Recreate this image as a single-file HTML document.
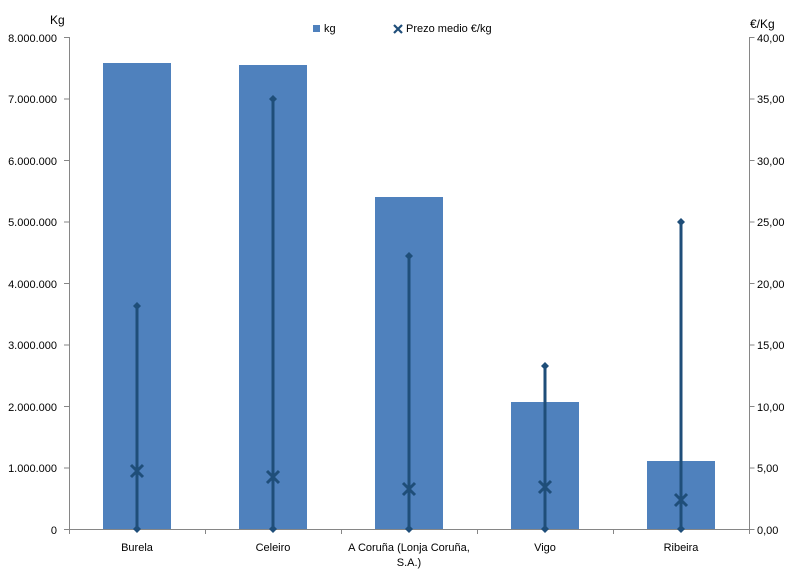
<!DOCTYPE html>
<html><head><meta charset="utf-8"><style>
html,body{margin:0;padding:0;background:#fff}
text{font-family:"Liberation Sans",sans-serif;font-size:11px;fill:#000}
</style></head><body>
<svg width="795" height="573" viewBox="0 0 795 573" xmlns="http://www.w3.org/2000/svg">
<g fill="#4f81bd">
<rect x="103" y="63" width="68" height="466"/>
<rect x="239" y="65" width="68" height="464"/>
<rect x="375" y="197" width="68" height="332"/>
<rect x="511" y="402" width="68" height="127"/>
<rect x="647" y="461" width="68" height="68"/>
</g>
<g stroke="#868686" stroke-width="1" fill="none">
<path d="M69.5 37V529.5H749.5V37"/>
<path d="M64 37.5h5.5M64 99h5.5M64 160.5h5.5M64 222h5.5M64 283.5h5.5M64 345h5.5M64 406.5h5.5M64 468h5.5M64 529.5h5.5"/>
<path d="M749.5 37.5h5M749.5 99h5M749.5 160.5h5M749.5 222h5M749.5 283.5h5M749.5 345h5M749.5 406.5h5M749.5 468h5M749.5 529.5h5"/>
<path d="M69.5 529v5M205.5 529v5M341.5 529v5M477.5 529v5M613.5 529v5M749.5 529v5"/>
</g>
<g stroke="#1f4e79" stroke-width="3" fill="#1f4e79">
<line x1="137" y1="306" x2="137" y2="529"/>
<line x1="273" y1="99" x2="273" y2="529"/>
<line x1="409" y1="256" x2="409" y2="529"/>
<line x1="545" y1="366" x2="545" y2="529"/>
<line x1="681" y1="222" x2="681" y2="529"/>
</g>
<g fill="#1f4e79">
<path d="M137 302l4 4-4 4-4-4z"/><path d="M137 525l4 4-4 4-4-4z"/>
<path d="M273 95l4 4-4 4-4-4z"/><path d="M273 525l4 4-4 4-4-4z"/>
<path d="M409 252l4 4-4 4-4-4z"/><path d="M409 525l4 4-4 4-4-4z"/>
<path d="M545 362l4 4-4 4-4-4z"/><path d="M545 525l4 4-4 4-4-4z"/>
<path d="M681 218l4 4-4 4-4-4z"/><path d="M681 525l4 4-4 4-4-4z"/>
</g>
<g stroke="#1f4e79" stroke-width="3">
<path d="M131 465l12 12M143 465l-12 12"/>
<path d="M267 471l12 12M279 471l-12 12"/>
<path d="M403 483l12 12M415 483l-12 12"/>
<path d="M539 481l12 12M551 481l-12 12"/>
<path d="M675 494l12 12M687 494l-12 12"/>
</g>
<g text-anchor="end">
<text x="57" y="42">8.000.000</text><text x="57" y="103">7.000.000</text>
<text x="57" y="165">6.000.000</text><text x="57" y="226">5.000.000</text>
<text x="57" y="288">4.000.000</text><text x="57" y="349">3.000.000</text>
<text x="57" y="411">2.000.000</text><text x="57" y="472">1.000.000</text>
<text x="57" y="534">0</text>
</g>
<g>
<text x="757" y="42">40,00</text><text x="757" y="103">35,00</text>
<text x="757" y="165">30,00</text><text x="757" y="226">25,00</text>
<text x="757" y="288">20,00</text><text x="757" y="349">15,00</text>
<text x="757" y="411">10,00</text><text x="757" y="472">5,00</text>
<text x="757" y="534">0,00</text>
</g>
<text x="50" y="24" style="font-size:12px">Kg</text>
<text x="750" y="28" style="font-size:12px">€/Kg</text>
<rect x="313" y="25" width="7" height="7" fill="#4f81bd"/>
<text x="324" y="32">kg</text>
<path d="M394 25l8 8M402 25l-8 8" stroke="#1f4e79" stroke-width="2.2"/>
<text x="406" y="32">Prezo medio €/kg</text>
<g text-anchor="middle">
<text x="137" y="551">Burela</text>
<text x="273" y="551">Celeiro</text>
<text x="409" y="551">A Coruña (Lonja Coruña,</text>
<text x="409" y="566">S.A.)</text>
<text x="545" y="551">Vigo</text>
<text x="681" y="551">Ribeira</text>
</g>
</svg>
</body></html>
